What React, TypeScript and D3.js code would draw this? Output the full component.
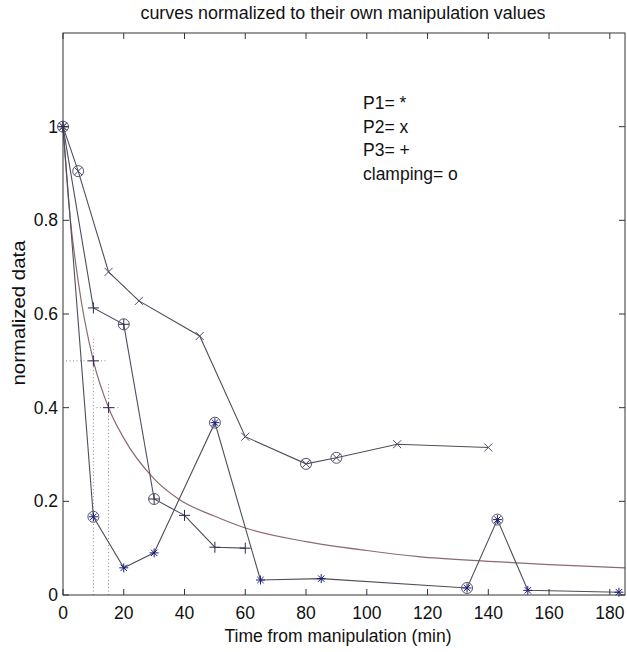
import React from 'react';
import * as d3 from 'd3';

type Pt = { x: number; y: number };

// P1 (*)
const p1: Pt[] = [
  { x: 0, y: 1 }, { x: 10, y: 0.167 }, { x: 20, y: 0.058 }, { x: 30, y: 0.09 },
  { x: 50, y: 0.368 }, { x: 65, y: 0.032 }, { x: 85, y: 0.035 }, { x: 133, y: 0.015 },
  { x: 143, y: 0.161 }, { x: 153, y: 0.01 }, { x: 183, y: 0.006 },
];
// P2 (x)
const p2: Pt[] = [
  { x: 0, y: 1 }, { x: 5, y: 0.905 }, { x: 15, y: 0.69 }, { x: 25, y: 0.628 },
  { x: 45, y: 0.553 }, { x: 60, y: 0.338 }, { x: 80, y: 0.28 }, { x: 90, y: 0.293 },
  { x: 110, y: 0.322 }, { x: 140, y: 0.315 },
];
// P3 (+)
const p3: Pt[] = [
  { x: 0, y: 1 }, { x: 10, y: 0.613 }, { x: 20, y: 0.578 }, { x: 30, y: 0.205 },
  { x: 40, y: 0.17 }, { x: 50, y: 0.102 }, { x: 60, y: 0.1 },
];
// clamping (o)
const clamping: Pt[] = [
  { x: 0, y: 1 }, { x: 5, y: 0.905 }, { x: 10, y: 0.167 }, { x: 20, y: 0.578 },
  { x: 30, y: 0.205 }, { x: 50, y: 0.368 }, { x: 80, y: 0.28 }, { x: 90, y: 0.293 },
  { x: 133, y: 0.015 }, { x: 143, y: 0.161 },
];
// fitted decay curve
const fit: Pt[] = [
  { x: 0, y: 1 }, { x: 2, y: 0.83 }, { x: 5, y: 0.67 }, { x: 10, y: 0.5 },
  { x: 15, y: 0.4 }, { x: 20, y: 0.335 }, { x: 30, y: 0.248 }, { x: 38, y: 0.205 },
  { x: 50, y: 0.168 }, { x: 60, y: 0.143 }, { x: 80, y: 0.114 }, { x: 100, y: 0.095 },
  { x: 117, y: 0.082 }, { x: 140, y: 0.072 }, { x: 160, y: 0.065 }, { x: 185, y: 0.058 },
];
// half-life crosshairs
const halfMarks = [
  { x: 10, y: 0.5, h: [1, 14], v: [0, 0.55] },
  { x: 15, y: 0.4, h: [11, 19], v: [0, 0.45] },
];
const xTicks = [0, 20, 40, 60, 80, 100, 120, 140, 160, 180];
const yTicks = [0, 0.2, 0.4, 0.6, 0.8, 1];
const legendLines = ['P1= *', 'P2= x', 'P3= +', 'clamping= o'];

const W = 627;
const H = 652;
const m = { left: 63, right: 2, top: 33, bottom: 57 };
const font = '"Liberation Sans", Arial, sans-serif';
const lineColor = '#4e4e5c';
const fs = 17.5;

const x = d3.scaleLinear().domain([0, 185]).range([m.left, W - m.right]);
const y = d3.scaleLinear().domain([0, 1.2]).range([H - m.bottom, m.top]);
const line = d3.line<Pt>().x(d => x(d.x)).y(d => y(d.y));
const smooth = d3.line<Pt>().x(d => x(d.x)).y(d => y(d.y)).curve(d3.curveMonotoneX);

const Star: React.FC<{ p: Pt }> = ({ p }) => {
  const cx = x(p.x), cy = y(p.y), r = 4.5, d = 3.2;
  return (
    <g stroke="#1c1c78" strokeWidth={1}>
      <line x1={cx - r} y1={cy} x2={cx + r} y2={cy} />
      <line x1={cx} y1={cy - r} x2={cx} y2={cy + r} />
      <line x1={cx - d} y1={cy - d} x2={cx + d} y2={cy + d} />
      <line x1={cx - d} y1={cy + d} x2={cx + d} y2={cy - d} />
    </g>
  );
};

const Cross: React.FC<{ p: Pt }> = ({ p }) => {
  const cx = x(p.x), cy = y(p.y), d = 4;
  return (
    <g stroke="#4a4a6a" strokeWidth={1}>
      <line x1={cx - d} y1={cy - d} x2={cx + d} y2={cy + d} />
      <line x1={cx - d} y1={cy + d} x2={cx + d} y2={cy - d} />
    </g>
  );
};

const Plus: React.FC<{ p: Pt }> = ({ p }) => {
  const cx = x(p.x), cy = y(p.y), r = 5.5;
  return (
    <g stroke="#2a2a50" strokeWidth={1}>
      <line x1={cx - r} y1={cy} x2={cx + r} y2={cy} />
      <line x1={cx} y1={cy - r} x2={cx} y2={cy + r} />
    </g>
  );
};

const App: React.FC = () => {
  const x0 = m.left, x1 = W - m.right, y0 = H - m.bottom, y1 = m.top;
  return (
    <svg width={W} height={H} style={{ position: 'absolute', left: 0, top: 0, background: '#fff' }} fontFamily={font}>
      <rect x={0} y={0} width={W} height={H} fill="#fff" />

      {/* dotted half-value guides */}
      <g stroke="#8a8a96" strokeWidth={1} strokeDasharray="1,2.5">
        {halfMarks.map((h, i) => (
          <g key={i}>
            <line x1={x(h.h[0])} y1={y(h.y)} x2={x(h.h[1])} y2={y(h.y)} />
            <line x1={x(h.x)} y1={y(h.v[0])} x2={x(h.x)} y2={y(h.v[1])} />
          </g>
        ))}
      </g>

      <path d={smooth(fit) ?? ''} fill="none" stroke="#8c6a6e" strokeWidth={1.2} />

      <path d={line(p1) ?? ''} fill="none" stroke={lineColor} strokeWidth={1.1} />
      <path d={line(p2) ?? ''} fill="none" stroke={lineColor} strokeWidth={1.1} />
      <path d={line(p3) ?? ''} fill="none" stroke={lineColor} strokeWidth={1.1} />

      {p1.map((p, i) => <Star key={`a${i}`} p={p} />)}
      {p2.map((p, i) => <Cross key={`b${i}`} p={p} />)}
      {p3.map((p, i) => <Plus key={`c${i}`} p={p} />)}
      {halfMarks.map((h, i) => <Plus key={`h${i}`} p={{ x: h.x, y: h.y }} />)}
      {clamping.map((p, i) => (
        <circle key={`o${i}`} cx={x(p.x)} cy={y(p.y)} r={5.5} fill="none" stroke="#55556a" strokeWidth={1} />
      ))}

      {/* axes box */}
      <rect x={x0} y={y1} width={x1 - x0} height={y0 - y1} fill="none" stroke="#333" strokeWidth={1} />
      <g stroke="#333" strokeWidth={1}>
        {xTicks.map(t => (
          <g key={`xt${t}`}>
            <line x1={x(t)} y1={y0} x2={x(t)} y2={y0 - 6} />
            <line x1={x(t)} y1={y1} x2={x(t)} y2={y1 + 6} />
          </g>
        ))}
        {yTicks.map(t => (
          <g key={`yt${t}`}>
            <line x1={x0} y1={y(t)} x2={x0 + 6} y2={y(t)} />
            <line x1={x1} y1={y(t)} x2={x1 - 6} y2={y(t)} />
          </g>
        ))}
      </g>
      <g fontSize={fs} fill="#111">
        {xTicks.map(t => (
          <text key={`xl${t}`} x={x(t)} y={y0 + 24} textAnchor="middle">{t}</text>
        ))}
        {yTicks.map(t => (
          <text key={`yl${t}`} x={x0 - 5} y={y(t) + 6} textAnchor="end">{String(t)}</text>
        ))}
      </g>

      <text x={343} y={19} textAnchor="middle" fontSize={fs} fill="#111"
        textLength={405} lengthAdjust="spacingAndGlyphs">
        curves normalized to their own manipulation values
      </text>
      <text x={338} y={642} textAnchor="middle" fontSize={fs} fill="#111"
        textLength={227} lengthAdjust="spacingAndGlyphs">
        Time from manipulation (min)
      </text>
      <text transform={`translate(25,${313}) rotate(-90)`} textAnchor="middle" fontSize={fs} fill="#111"
        textLength={145} lengthAdjust="spacingAndGlyphs">
        normalized data
      </text>

      <g fontSize={fs} fill="#111">
        {legendLines.map((s, i) => (
          <text key={s} x={363} y={109 + i * 23.7}>{s}</text>
        ))}
      </g>
    </svg>
  );
};

export default App;
